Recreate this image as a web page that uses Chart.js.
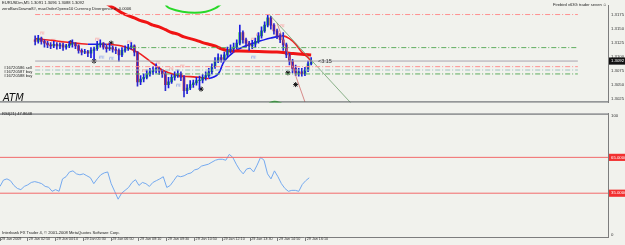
<!DOCTYPE html>
<html>
<head>
<meta charset="utf-8">
<script src="https://cdn.jsdelivr.net/npm/chart.js@4.4.0/dist/chart.umd.min.js"></script>
<style>
  body { margin: 0; width: 625px; height: 245px; overflow: hidden; position: relative; background: #f1f2ed; font-family: "Liberation Sans", sans-serif; }
  canvas { position: absolute; left: 0; }
  #main { top: 0; }
  #rsi { top: 108px; }
  .t { position: absolute; white-space: nowrap; color: #222; font-size: 4.1px; line-height: 1; }
</style>
</head>
<body>
<canvas id="main" width="625" height="108"></canvas>
<canvas id="rsi" width="625" height="137"></canvas>

<div class="t" style="left:2px;top:1px">EURUSDm,M5 1.3091 1.3096 1.3088 1.3092</div>
<div class="t" style="left:2px;top:7px">zeroBarsDown=8#, maxOrderOpen=10 Currency Divergence = -0.0006</div>
<div class="t" style="left:553px;top:3px">Firebird v63G trader seven ☺</div>
<div class="t" style="left:4px;top:66px">#16720586 sell</div>
<div class="t" style="left:4px;top:70px">#16720587 buy</div>
<div class="t" style="left:4px;top:74px">#16720588 buy</div>
<div class="t" style="left:3px;top:93px;font-size:10px;font-style:italic;color:#111;font-family:'DejaVu Sans'">ATM</div>
<div class="t" style="left:318px;top:59px;font-size:5.5px;color:#333">&lt;3:15</div>
<div class="t" style="left:2px;top:112px">RSI(21) 47.8648</div>
<div class="t" style="left:2px;top:231px">Interbank FX Trader 4, © 2001-2008 MetaQuotes Software Corp.</div>

<script>
// candles, one per 10 minutes (index 0 = left edge)
const open  = [1.3130,1.3127,1.3133,1.3127,1.3124,1.3121,1.3119,1.3122,1.3119,1.3121,
               1.3117,1.3119,1.3122,1.3124,1.3119,1.3111,1.3108,1.3109,1.3106,1.3111,
               1.3114,1.3121,1.3124,1.3117,1.3114,1.3116,1.3113,1.3111,1.3103,1.3111,
               1.3114,1.3117,1.3119,1.3108,1.3055,1.3060,1.3063,1.3069,1.3073,1.3076,
               1.3079,1.3074,1.3069,1.3050,1.3055,1.3063,1.3066,1.3069,1.3063,1.3039,
               1.3044,1.3050,1.3053,1.3057,1.3058,1.3063,1.3066,1.3073,1.3082,1.3092,
               1.3098,1.3095,1.3103,1.3111,1.3114,1.3117,1.3124,1.3143,1.3130,1.3124,
               1.3119,1.3122,1.3127,1.3137,1.3146,1.3156,1.3169,1.3156,1.3146,1.3137,
               1.3130,1.3121,1.3103,1.3092,1.3079,1.3071,1.3073,1.3069,1.3076,1.3087];
const high  = [1.3137,1.3138,1.3135,1.3130,1.3127,1.3125,1.3127,1.3125,1.3124,1.3124,
               1.3122,1.3127,1.3130,1.3125,1.3121,1.3114,1.3113,1.3111,1.3116,1.3117,
               1.3127,1.3130,1.3125,1.3121,1.3124,1.3119,1.3117,1.3114,1.3116,1.3119,
               1.3122,1.3125,1.3121,1.3109,1.3066,1.3069,1.3076,1.3079,1.3082,1.3087,
               1.3082,1.3077,1.3073,1.3063,1.3068,1.3073,1.3076,1.3073,1.3066,1.3050,
               1.3057,1.3058,1.3063,1.3065,1.3068,1.3073,1.3079,1.3087,1.3098,1.3105,
               1.3103,1.3108,1.3117,1.3121,1.3124,1.3130,1.3156,1.3146,1.3133,1.3127,
               1.3129,1.3133,1.3143,1.3153,1.3162,1.3175,1.3172,1.3159,1.3149,1.3141,
               1.3143,1.3124,1.3106,1.3095,1.3085,1.3079,1.3079,1.3081,1.3092,1.3098];
const low   = [1.3121,1.3124,1.3122,1.3117,1.3116,1.3114,1.3116,1.3113,1.3114,1.3111,
               1.3113,1.3116,1.3117,1.3114,1.3106,1.3103,1.3105,1.3100,1.3098,1.3095,
               1.3111,1.3117,1.3113,1.3108,1.3111,1.3108,1.3105,1.3092,1.3100,1.3108,
               1.3111,1.3113,1.3101,1.3047,1.3050,1.3055,1.3060,1.3065,1.3068,1.3071,
               1.3068,1.3063,1.3039,1.3044,1.3052,1.3058,1.3063,1.3057,1.3028,1.3034,
               1.3041,1.3045,1.3049,1.3042,1.3053,1.3058,1.3063,1.3069,1.3079,1.3089,
               1.3090,1.3092,1.3100,1.3106,1.3109,1.3114,1.3121,1.3124,1.3117,1.3111,
               1.3114,1.3117,1.3124,1.3133,1.3143,1.3153,1.3149,1.3140,1.3132,1.3125,
               1.3111,1.3098,1.3085,1.3071,1.3066,1.3065,1.3065,1.3066,1.3073,1.3085];
const close = [1.3127,1.3133,1.3127,1.3124,1.3121,1.3119,1.3122,1.3119,1.3121,1.3117,
               1.3119,1.3122,1.3124,1.3119,1.3111,1.3108,1.3109,1.3106,1.3111,1.3114,
               1.3121,1.3124,1.3117,1.3114,1.3116,1.3113,1.3111,1.3103,1.3111,1.3114,
               1.3117,1.3119,1.3108,1.3055,1.3060,1.3063,1.3069,1.3073,1.3076,1.3079,
               1.3074,1.3069,1.3050,1.3055,1.3063,1.3066,1.3069,1.3063,1.3039,1.3044,
               1.3050,1.3053,1.3057,1.3058,1.3063,1.3066,1.3073,1.3082,1.3092,1.3098,
               1.3095,1.3103,1.3111,1.3114,1.3117,1.3124,1.3143,1.3130,1.3124,1.3119,
               1.3122,1.3127,1.3137,1.3146,1.3156,1.3169,1.3156,1.3146,1.3137,1.3130,
               1.3121,1.3103,1.3092,1.3079,1.3071,1.3073,1.3069,1.3076,1.3087,1.3092];

// moving averages, read at a few bars each: [bar, price]
const maSlow = [[20,1.3207],[24,1.3191],[26,1.3185],[28,1.3178],[30,1.3173],[32,1.3169],[34,1.3164],
                [36,1.3161],[38,1.3156],[40,1.3153],[42,1.3148],[44,1.3143],[46,1.3140],[48,1.3135],
                [50,1.3132],[52,1.3129],[54,1.3125],[56,1.3122],[58,1.3119],[60,1.3114],[62,1.3111],
                [66,1.3110],[72,1.3109],[78,1.3108],[82,1.3106],[86,1.3104],[89,1.3103]];
const maFast = [[0,1.3132],[5,1.3129],[11,1.3125],[17,1.3122],[23,1.3122],[28,1.3119],[33,1.3108],
                [37,1.3092],[41,1.3076],[46,1.3066],[48,1.3065],[53,1.3063],[56,1.3061],[59,1.3069],
                [61,1.3092],[64,1.3108],[67,1.3117],[71,1.3125],[76,1.3133],[80,1.3137],[82,1.3132],
                [84,1.3122],[86,1.3108],[88,1.3098],[89,1.3092]];
const topOsc  = [[42,1.3192],[43.5,1.3186],[47.5,1.3180],[51.5,1.3178],[55,1.3180],[58,1.3186],[60,1.3194]];
const lowOsc  = [[75.5,1.3016],[76.5,1.3019],[78,1.3019],[79.5,1.3016]];

// horizontal levels: [start bar, price, colour]
const levels = [[0,1.3175,'#ff8f8f'],[31,1.3116,'#5fae5f'],[0,1.3082,'#ff8f8f'],[0,1.3076,'#9fbfc0'],[0,1.3069,'#5fae5f']];
const bidPrice = 1.3092;
const trendGreen = [[75.5,1.3175],[104.5,1.3001]];
const trendRed   = [[78,1.3160],[87,1.3019]];

const stars    = [[11.5,1.3125],[19,1.3092],[24.5,1.3124],[53.5,1.3042],[81.5,1.3071],[84,1.3050]];
const upMarks  = [[2.9,1.3143],[6.6,1.3130],[9.2,1.3127],[14.4,1.3124],[20.7,1.3132],[31.1,1.3127],
                  [36,1.3076],[40.3,1.3090],[44.6,1.3079],[48.1,1.3084],[71.1,1.3132],[72.8,1.3140],[80.3,1.3156]];
const downMarks= [[22.2,1.3100],[25.3,1.3098],[46.9,1.3050],[57,1.3068],[71.1,1.3100]];

const priceTicks = [1.3175,1.3150,1.3125,1.3100,1.3092,1.3075,1.3050,1.3025];

// RSI(21), one value per bar
const rsi = [40.7,46,47,45.5,41.5,39,38,40.7,42,44,
             44.7,44,43,40.7,40,36.6,38,36.6,47,48.8,
             52.8,53.7,51.2,50.4,51.2,49.6,48,43,47,50.4,
             52,52.8,43,36.6,30,35,37.4,39.8,44,46.3,
             41.5,44,43,40.7,44,45.5,47,48.8,39.8,41.5,
             45.5,49.6,48.8,49.6,51.2,52,54.5,55.3,57.7,58.5,
             59.3,61,62.6,63.4,63.4,62.6,67.5,65,59.3,54.5,
             51.2,55.3,56,52.8,58.5,65,62.6,51.2,47,53.7,
             48.8,43,39,36.6,37.4,37.4,36.6,42.3,45.5,47.9];
const rsiLevels = [65, 35];
const rsiTicks = [100, 65, 35, 0];

const timeTicks = [0, 8, 16, 24, 32, 40, 48, 56, 64, 72, 80, 88];
const timeLabels = ['29 Jan 2009','29 Jan 02:50','29 Jan 04:10','29 Jan 05:30','29 Jan 06:50','29 Jan 08:10',
                    '29 Jan 09:30','29 Jan 10:50','29 Jan 12:10','29 Jan 13:30','29 Jan 14:50','29 Jan 16:10'];

const X_MIN = 0, X_MAX = 175;
const axisGrey = '#7d7d7d';
const priceFont = { family: 'Liberation Sans', size: 4.3 };
const timeFont = { family: 'Liberation Sans', size: 3.7 };

const pts = arr => arr.map(p => ({ x: p[0], y: p[1] }));

function markImage(txt, col) {
  const c = document.createElement('canvas');
  c.width = 9; c.height = 6;
  const g = c.getContext('2d');
  g.font = 'italic 5px DejaVu Sans';
  g.fillStyle = col;
  g.fillText(txt, 0, 5);
  return c;
}

const frame = {
  id: 'frame',
  afterDraw(chart) {
    const { ctx, chartArea: a } = chart;
    ctx.save();
    ctx.strokeStyle = '#55585e';
    ctx.lineWidth = 1;
    ctx.beginPath();
    if (chart.canvas.id === 'main') { ctx.moveTo(0, a.bottom - 0.5); ctx.lineTo(a.right, a.bottom - 0.5); }
    else { ctx.moveTo(0, a.top + 0.5); ctx.lineTo(a.right, a.top + 0.5); }
    ctx.stroke();
    ctx.restore();
  }
};

const lineDs = (data, color, width, extra) => Object.assign({
  type: 'line', data: pts(data), borderColor: color, borderWidth: width,
  pointRadius: 0, fill: false, tension: 0
}, extra || {});

const datasets = [];
levels.forEach(l => datasets.push(lineDs([[l[0], l[1]], [X_MAX, l[1]]], l[2], 1, { borderDash: [5, 2, 1, 2] })));
datasets.push(lineDs([[X_MIN, bidPrice], [X_MAX, bidPrice]], '#a7a2ad', 1));
datasets.push(lineDs(trendGreen, '#6fa06f', 0.8));
datasets.push(lineDs(trendRed, '#d07070', 0.8));
datasets.push({
  type: 'bar', grouped: false, barThickness: 1,
  data: close.map((c, i) => ({ x: i, y: [low[i], high[i]] })),
  backgroundColor: close.map((c, i) => c >= open[i] ? '#1d1de0' : '#2a2ad0')
});
datasets.push({
  type: 'bar', grouped: false, barThickness: 2,
  data: close.map((c, i) => ({ x: i, y: c === open[i] ? [c - 0.00005, c + 0.00005] : [open[i], c] })),
  backgroundColor: close.map((c, i) => c >= open[i] ? '#1fc21f' : '#e02020')
});
datasets.push(lineDs(maSlow, '#f01414', 3, { tension: 0.3 }));
datasets.push(lineDs(maFast, '#1a1ae8', 1.6, {
  tension: 0.3,
  segment: { borderColor: c => c.p1.parsed.y >= c.p0.parsed.y ? '#1a1ae8' : '#ee2020' }
}));
datasets.push(lineDs(topOsc, '#28d828', 2, { tension: 0.4 }));
datasets.push(lineDs(lowOsc, '#28d828', 2, { tension: 0.4 }));
datasets.push({ type: 'line', showLine: false, data: pts(stars), pointStyle: 'star', pointRadius: 2.5,
  borderColor: '#111', borderWidth: 1, backgroundColor: '#111' });
datasets.push({ type: 'line', showLine: false, data: pts(upMarks), pointStyle: markImage('rs', '#ff7a7a') });
datasets.push({ type: 'line', showLine: false, data: pts(downMarks), pointStyle: markImage('rs', '#5a7ae8') });

new Chart(document.getElementById('main'), {
  type: 'bar',
  data: { datasets },
  options: {
    responsive: false, animation: false,
    layout: { padding: 0 },
    plugins: { legend: { display: false }, tooltip: { enabled: false } },
    scales: {
      x: { type: 'linear', min: X_MIN, max: X_MAX, display: false },
      y: {
        position: 'right', min: 1.30182, max: 1.3191,
        afterFit: s => { s.width = 17; },
        afterBuildTicks: s => { s.ticks = priceTicks.map(v => ({ value: v })); },
        grid: { display: false, drawTicks: false },
        border: { color: axisGrey },
        ticks: {
          font: priceFont, padding: 3,
          callback: v => v.toFixed(4),
          color: c => c.tick && c.tick.value === bidPrice ? '#ffffff' : '#333',
          showLabelBackdrop: true,
          backdropPadding: { left: 2, right: 2, top: 1, bottom: 1 },
          backdropColor: c => c.tick && c.tick.value === bidPrice ? '#111' : 'rgba(0,0,0,0)'
        }
      }
    }
  },
  plugins: [frame]
});

const rsiDatasets = rsiLevels.map(v => lineDs([[X_MIN, v], [X_MAX, v]], '#f26a6a', 1));
rsiDatasets.push(lineDs(rsi.map((v, i) => [i, v]), '#74a9ef', 1));

new Chart(document.getElementById('rsi'), {
  type: 'line',
  data: { datasets: rsiDatasets },
  options: {
    responsive: false, animation: false,
    layout: { padding: { top: 2 } },
    plugins: { legend: { display: false }, tooltip: { enabled: false } },
    scales: {
      x: {
        type: 'linear', min: X_MIN, max: X_MAX,
        afterFit: s => { s.height = 8; },
        afterBuildTicks: s => { s.ticks = timeTicks.map(v => ({ value: v })); },
        grid: { drawOnChartArea: false, tickLength: 4, color: axisGrey },
        border: { color: axisGrey },
        ticks: { font: timeFont, color: '#333', align: 'start', padding: -4, maxRotation: 0, autoSkip: false,
                 callback: (v, i) => ' ' + timeLabels[i] }
      },
      y: {
        position: 'right', min: -1.63, max: 101.63,
        afterFit: s => { s.width = 17; },
        afterBuildTicks: s => { s.ticks = rsiTicks.map(v => ({ value: v })); },
        grid: { display: false, drawTicks: false },
        border: { color: axisGrey },
        ticks: {
          font: priceFont, padding: 3,
          callback: v => (v === 0 || v === 100) ? String(v) : v.toFixed(4),
          color: c => c.tick && (c.tick.value === 0 || c.tick.value === 100) ? '#333' : '#ffffff',
          showLabelBackdrop: true,
          backdropPadding: { left: 2, right: 2, top: 1, bottom: 1 },
          backdropColor: c => c.tick && (c.tick.value === 0 || c.tick.value === 100) ? 'rgba(0,0,0,0)' : '#f23030'
        }
      }
    }
  },
  plugins: [frame]
});
</script>
</body>
</html>
